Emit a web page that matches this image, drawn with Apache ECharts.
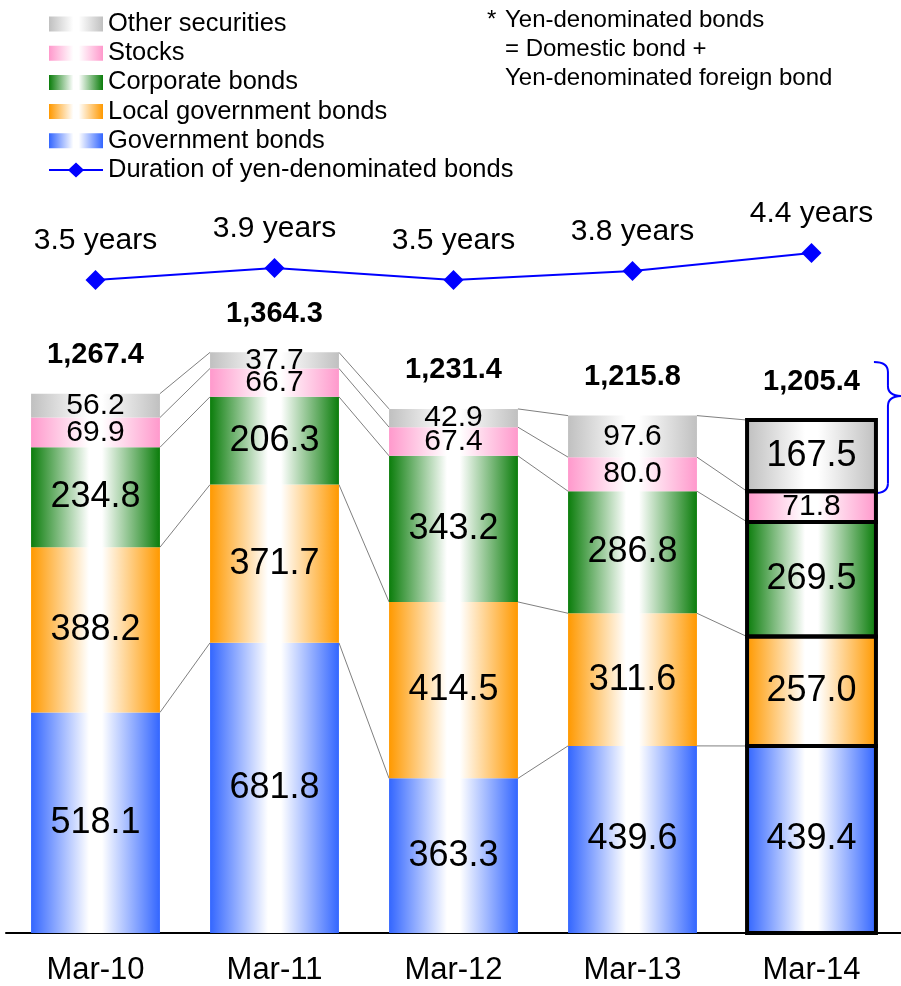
<!DOCTYPE html>
<html>
<head>
<meta charset="utf-8">
<script src="https://cdn.jsdelivr.net/npm/echarts@6/dist/echarts.min.js"></script>
<style>html,body{margin:0;padding:0;background:#fff;}#c{width:901px;height:986px;}</style>
</head>
<body>
<div id="c"></div>
<script>
const categories = ['Mar-10', 'Mar-11', 'Mar-12', 'Mar-13', 'Mar-14'];
const governmentBonds = [518.1, 681.8, 363.3, 439.6, 439.4];
const localGovBonds = [388.2, 371.7, 414.5, 311.6, 257.0];
const corporateBonds = [234.8, 206.3, 343.2, 286.8, 269.5];
const stocks = [69.9, 66.7, 67.4, 80.0, 71.8];
const otherSecurities = [56.2, 37.7, 42.9, 97.6, 167.5];
const totals = [1267.4, 1364.3, 1231.4, 1215.8, 1205.4];
const duration = [3.5, 3.9, 3.5, 3.8, 4.4];
const outlinedCategory = 'Mar-14';

const FONT = "'Liberation Sans', Arial, sans-serif";
const chart = echarts.init(document.getElementById('c'), null, {renderer: 'canvas'});

function grad(c) {
  return new echarts.graphic.LinearGradient(0, 0, 1, 0, [
    {offset: 0, color: c}, {offset: 0.45, color: '#ffffff'},
    {offset: 0.55, color: '#ffffff'}, {offset: 1, color: c}
  ]);
}

const segs = [
  {name: 'Government bonds', data: governmentBonds, color: '#3366ff'},
  {name: 'Local government bonds', data: localGovBonds, color: '#ff9900'},
  {name: 'Corporate bonds', data: corporateBonds, color: '#0b7d0b'},
  {name: 'Stocks', data: stocks, color: '#ff99cc'},
  {name: 'Other securities', data: otherSecurities, color: '#c0c0c0'}
];

const barSeries = segs.map(s => ({
  name: s.name, type: 'bar', stack: 'total', barWidth: '72%',
  xAxisIndex: 0, yAxisIndex: 0, z: 2,
  itemStyle: {color: grad(s.color)},
  label: {show: true, position: 'inside', color: '#000', fontFamily: FONT,
    formatter: p => p.value.toFixed(1)},
  data: s.data.map(v => ({value: v, label: {fontSize: v < 100 ? 30 : 36}}))
}));

// cumulative tops
const cum = categories.map((_, i) => {
  let acc = 0; return segs.map(s => (acc += s.data[i]));
});
const connectorData = [];
for (let i = 0; i < categories.length - 1; i++) {
  for (let k = 0; k < segs.length; k++) connectorData.push([i, cum[i][k], cum[i + 1][k]]);
}
const oi = categories.indexOf(outlinedCategory);
const outlineData = segs.map((s, k) => [oi, k === 0 ? 0 : cum[oi][k - 1], cum[oi][k]]);

const option = {
  animation: false,
  backgroundColor: '#fff',
  textStyle: {fontFamily: FONT},
  legend: {
    orient: 'vertical', left: 49, top: 11, padding: 0, itemWidth: 54, itemHeight: 15, itemGap: 3.2,
    textStyle: {fontSize: 25.5, color: '#000', fontFamily: FONT, lineHeight: 25},
    data: [
      {name: 'Other securities', icon: 'rect'},
      {name: 'Stocks', icon: 'rect'},
      {name: 'Corporate bonds', icon: 'rect'},
      {name: 'Local government bonds', icon: 'rect'},
      {name: 'Government bonds', icon: 'rect'},
      {name: 'Duration of yen-denominated bonds',
        icon: 'path://M0,6.5 L20,6.5 L27,0 L34,6.5 L54,6.5 L54,8.5 L34,8.5 L27,15 L20,8.5 L0,8.5 Z'}
    ],
    selectedMode: false
  },
  grid: [
    {left: 6, right: 0, top: 252, bottom: 51},
    {left: 6, right: 0, top: 253, height: 27}
  ],
  xAxis: [
    {type: 'category', gridIndex: 0, data: categories,
      axisLine: {lineStyle: {color: '#000', width: 2}},
      axisTick: {inside: true, length: 7, lineStyle: {color: '#000', width: 1.5}},
      axisLabel: {fontSize: 31, color: '#000', margin: 22, fontFamily: FONT}},
    {type: 'category', gridIndex: 1, data: categories, show: false}
  ],
  yAxis: [
    {type: 'value', gridIndex: 0, min: 0, max: 1600, show: false, splitLine: {show: false}},
    {type: 'value', gridIndex: 1, min: 3.5, max: 4.4, show: false, splitLine: {show: false}}
  ],
  series: [
    {type: 'custom', name: 'connectors', xAxisIndex: 0, yAxisIndex: 0, z: 1,
      encode: {x: 0, y: 1}, silent: true,
      renderItem: (params, api) => {
        const i = api.value(0);
        const p1 = api.coord([i, api.value(1)]);
        const p2 = api.coord([i + 1, api.value(2)]);
        const half = api.size([1, 0])[0] * 0.36;
        return {type: 'line', shape: {x1: p1[0] + half, y1: p1[1], x2: p2[0] - half, y2: p2[1]},
          style: {stroke: '#808080', lineWidth: 1}};
      },
      data: connectorData},
    ...barSeries,
    {type: 'bar', name: 'totals', stack: 'total', barWidth: '72%', xAxisIndex: 0, yAxisIndex: 0, z: 2,
      itemStyle: {color: 'rgba(0,0,0,0)'}, silent: true,
      label: {show: true, position: 'top', distance: 24, color: '#000', fontSize: 29, fontWeight: 'bold', fontFamily: FONT,
        formatter: p => totals[p.dataIndex].toLocaleString('en-US', {minimumFractionDigits: 1, maximumFractionDigits: 1})},
      data: totals.map(() => 0)},
    {type: 'custom', name: 'outline', xAxisIndex: 0, yAxisIndex: 0, z: 3,
      encode: {x: 0, y: [1, 2]}, silent: true,
      renderItem: (params, api) => {
        const i = api.value(0);
        const pb = api.coord([i, api.value(1)]);
        const pt = api.coord([i, api.value(2)]);
        const half = api.size([1, 0])[0] * 0.36;
        return {type: 'rect', shape: {x: pb[0] - half, y: pt[1], width: half * 2, height: pb[1] - pt[1]},
          style: {stroke: '#000', lineWidth: 4, fill: null}};
      },
      data: outlineData},
    {type: 'line', name: 'Duration of yen-denominated bonds', xAxisIndex: 1, yAxisIndex: 1,
      symbol: 'diamond', symbolSize: 20,
      lineStyle: {color: '#0000ff', width: 2}, itemStyle: {color: '#0000ff'},
      label: {show: true, position: 'top', distance: 14, color: '#000', fontSize: 30, fontFamily: FONT,
        formatter: p => p.value.toFixed(1) + ' years'},
      data: duration}
  ],
  graphic: [
    {id: 'star', type: 'text', left: 487, top: 8, style: {text: '*', fontSize: 24, fill: '#000', fontFamily: FONT}},
    {id: 'note', type: 'text', left: 505, top: 6, style: {
      text: 'Yen-denominated bonds\n= Domestic bond +\nYen-denominated foreign bond',
      fontSize: 24, lineHeight: 29, fill: '#000', fontFamily: FONT}}
  ]
};
chart.setOption(option);

// brace annotation next to the outlined bar (positions derived from the chart's scales)
(function () {
  const c0 = chart.convertToPixel({xAxisIndex: 0}, 0);
  const c1 = chart.convertToPixel({xAxisIndex: 0}, 1);
  const half = (c1 - c0) * 0.36;
  const pB = chart.convertToPixel({gridIndex: 0}, [oi, cum[oi][3]]);
  const pT = chart.convertToPixel({gridIndex: 0}, [oi, totals[oi]]);
  const x0 = pB[0] + half - 2;
  const yb = pB[1] + 2;
  const yt = pT[1] - 58;
  const tip = yt + 34;
  const xm = x0 + 14, xt = x0 + 28, r = 10;
  const st = () => ({stroke: '#0000ff', lineWidth: 2, fill: null});
  const parts = [
    {type: 'bezierCurve', shape: {x1: x0, y1: yt, cpx1: xm, cpy1: yt, x2: xm, y2: yt + r}, style: st()},
    {type: 'line', shape: {x1: xm, y1: yt + r, x2: xm, y2: tip - r}, style: st()},
    {type: 'bezierCurve', shape: {x1: xm, y1: tip - r, cpx1: xm, cpy1: tip, x2: xt, y2: tip}, style: st()},
    {type: 'bezierCurve', shape: {x1: xt, y1: tip, cpx1: xm, cpy1: tip, x2: xm, y2: tip + r}, style: st()},
    {type: 'line', shape: {x1: xm, y1: tip + r, x2: xm, y2: yb - r}, style: st()},
    {type: 'bezierCurve', shape: {x1: xm, y1: yb - r, cpx1: xm, cpy1: yb, x2: x0, y2: yb}, style: st()}
  ];
  option.graphic = option.graphic.concat(parts);
  chart.setOption(option, true);
})();
</script>
</body>
</html>
